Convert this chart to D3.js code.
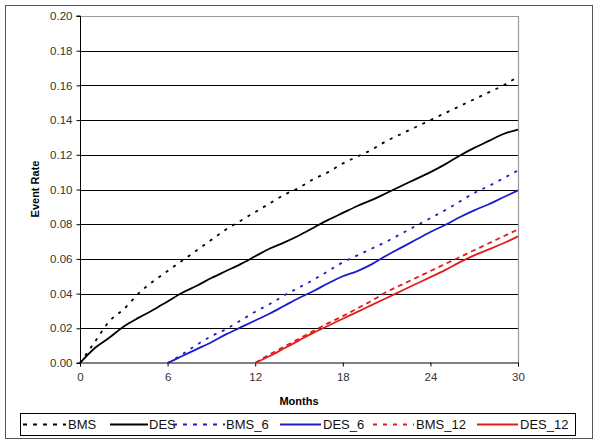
<!DOCTYPE html>
<html>
<head>
<meta charset="utf-8">
<script src="https://cdn.jsdelivr.net/npm/d3@7"></script>
<style>
body { margin: 0; background: #fff; }
svg { display: block; font-family: "Liberation Sans", Arial, sans-serif; }
</style>
</head>
<body>
<svg id="chart" width="600" height="446"></svg>
<script>
// ---- Data ----
const monthsFull = d3.range(0, 31);
const bms = [0, 0.012, 0.024, 0.031, 0.040, 0.047, 0.053, 0.059, 0.065, 0.071, 0.077, 0.082, 0.087, 0.092, 0.097, 0.101, 0.106, 0.110, 0.115, 0.119, 0.123, 0.128, 0.132, 0.136, 0.140, 0.144, 0.148, 0.152, 0.156, 0.160, 0.165];
const des = [0, 0.0085, 0.0145, 0.021, 0.026, 0.0305, 0.0355, 0.0405, 0.0445, 0.049, 0.053, 0.057, 0.0615, 0.066, 0.0695, 0.0735, 0.078, 0.0825, 0.0865, 0.0905, 0.094, 0.098, 0.102, 0.106, 0.110, 0.1145, 0.1195, 0.124, 0.128, 0.132, 0.1345];
const months6 = d3.range(6, 31);
const bms6 = [0, 0.005, 0.0105, 0.0155, 0.0195, 0.0245, 0.0295, 0.034, 0.039, 0.0435, 0.048, 0.053, 0.058, 0.062, 0.066, 0.070, 0.0745, 0.079, 0.0835, 0.088, 0.093, 0.098, 0.102, 0.1065, 0.111];
const des6 = [0, 0.004, 0.008, 0.012, 0.0165, 0.0205, 0.0245, 0.0285, 0.033, 0.0375, 0.0415, 0.046, 0.050, 0.053, 0.057, 0.062, 0.0665, 0.071, 0.0755, 0.0795, 0.084, 0.088, 0.0915, 0.0955, 0.0995];
const months12 = d3.range(12, 31);
const bms12 = [0, 0.005, 0.0095, 0.014, 0.0185, 0.023, 0.027, 0.0315, 0.036, 0.041, 0.045, 0.049, 0.053, 0.057, 0.061, 0.065, 0.069, 0.073, 0.077];
const des12 = [0, 0.004, 0.0085, 0.013, 0.0175, 0.0215, 0.0255, 0.0295, 0.0335, 0.0375, 0.0415, 0.0455, 0.0495, 0.0535, 0.058, 0.062, 0.0655, 0.069, 0.073];

const xTicks = [0, 6, 12, 18, 24, 30];
const yTicks = [0, 0.02, 0.04, 0.06, 0.08, 0.10, 0.12, 0.14, 0.16, 0.18, 0.20];
const seriesNames = ["BMS", "DES", "BMS_6", "DES_6", "BMS_12", "DES_12"];

const BLACK = "#000000", BLUE = "#1c1cc8", RED = "#e01e1e";
const series = [
  { name: "BMS", x: monthsFull, y: bms, color: BLACK, dash: "3,6" },
  { name: "DES", x: monthsFull, y: des, color: BLACK, dash: null },
  { name: "BMS_6", x: months6, y: bms6, color: BLUE, dash: "3,6" },
  { name: "DES_6", x: months6, y: des6, color: BLUE, dash: null },
  { name: "BMS_12", x: months12, y: bms12, color: RED, dash: "5,4" },
  { name: "DES_12", x: months12, y: des12, color: RED, dash: null }
];

// ---- Layout ----
const svg = d3.select("#chart");
const plot = { left: 80, right: 518, top: 16, bottom: 363 };
const x = d3.scaleLinear().domain([0, 30]).range([plot.left, plot.right]);
const y = d3.scaleLinear().domain([0, 0.20]).range([plot.bottom, plot.top]);

// outer frame
svg.append("rect").attr("x", 5.5).attr("y", 5.5).attr("width", 587).attr("height", 433)
  .attr("fill", "#fff").attr("stroke", "#555").attr("stroke-width", 1);

// gridlines
svg.append("g").selectAll("line").data(yTicks.filter(d => d > 0 && d < 0.2)).join("line")
  .attr("x1", plot.left).attr("x2", plot.right)
  .attr("y1", d => Math.round(y(d)) + 0.5).attr("y2", d => Math.round(y(d)) + 0.5)
  .attr("stroke", "#000").attr("stroke-width", 1);

// plot area top/right border (gray)
svg.append("path")
  .attr("d", `M${plot.left},${Math.round(y(0.2)) + 0.5}H${Math.round(plot.right) + 0.5}V${plot.bottom}`)
  .attr("fill", "none").attr("stroke", "#999").attr("stroke-width", 1.2);

// axes
const yAxis = d3.axisLeft(y).tickValues(yTicks).tickFormat(d3.format(".2f")).tickSize(4).tickPadding(4);
const xAxis = d3.axisBottom(x).tickValues(xTicks).tickFormat(d3.format("d")).tickSize(4).tickPadding(6);

const gy = svg.append("g").attr("transform", `translate(${plot.left + 0.5},0)`).call(yAxis);
const gx = svg.append("g").attr("transform", `translate(0,${Math.round(plot.bottom) - 0.5})`).call(xAxis);
[gx, gy].forEach(g => {
  g.select(".domain").attr("stroke", "#000");
  g.selectAll(".tick line").attr("stroke", "#000");
  g.selectAll(".tick text").attr("fill", "#333").attr("font-size", 11.5)
    .attr("font-family", "'Liberation Sans', Arial, sans-serif");
});
gy.select(".domain").attr("d", `M-4,${y(0.2)}H0V${plot.bottom}H-4`);

// axis titles
svg.append("text").attr("x", 299).attr("y", 405).attr("text-anchor", "middle")
  .attr("font-size", 11).attr("font-weight", "bold").text("Months");
svg.append("text").attr("transform", `translate(39,189) rotate(-90)`).attr("text-anchor", "middle")
  .attr("font-size", 11).attr("font-weight", "bold").text("Event Rate");

// lines
const lineGen = d3.line().curve(d3.curveMonotoneX).x(d => x(d[0])).y(d => y(d[1]));
series.forEach(s => {
  svg.append("path")
    .datum(s.x.map((m, i) => [m, s.y[i]]))
    .attr("d", lineGen)
    .attr("fill", "none")
    .attr("stroke", s.color)
    .attr("stroke-width", 1.8)
    .attr("stroke-dasharray", s.dash);
});

// legend
svg.append("rect").attr("x", 20.5).attr("y", 413.5).attr("width", 555).attr("height", 22)
  .attr("fill", "#fff").attr("stroke", "#000").attr("stroke-width", 1);
const legendPos = [
  { x1: 23, x2: 66, tx: 68 },
  { x1: 110, x2: 148, tx: 149 },
  { x1: 173, x2: 225, tx: 226 },
  { x1: 280, x2: 321, tx: 323 },
  { x1: 373, x2: 414, tx: 416 },
  { x1: 477, x2: 518, tx: 520 }
];
const lg = svg.append("g").attr("class", "legend");
series.forEach((s, i) => {
  const p = legendPos[i];
  lg.append("line").attr("x1", p.x1).attr("x2", p.x2).attr("y1", 424.5).attr("y2", 424.5)
    .attr("stroke", s.color).attr("stroke-width", 2).attr("stroke-dasharray", s.dash ? "4,6" : null);
  lg.append("text").attr("x", p.tx).attr("y", 429).attr("font-size", 13)
    .attr("fill", "#111").text(seriesNames[i]);
});
</script>
</body>
</html>
